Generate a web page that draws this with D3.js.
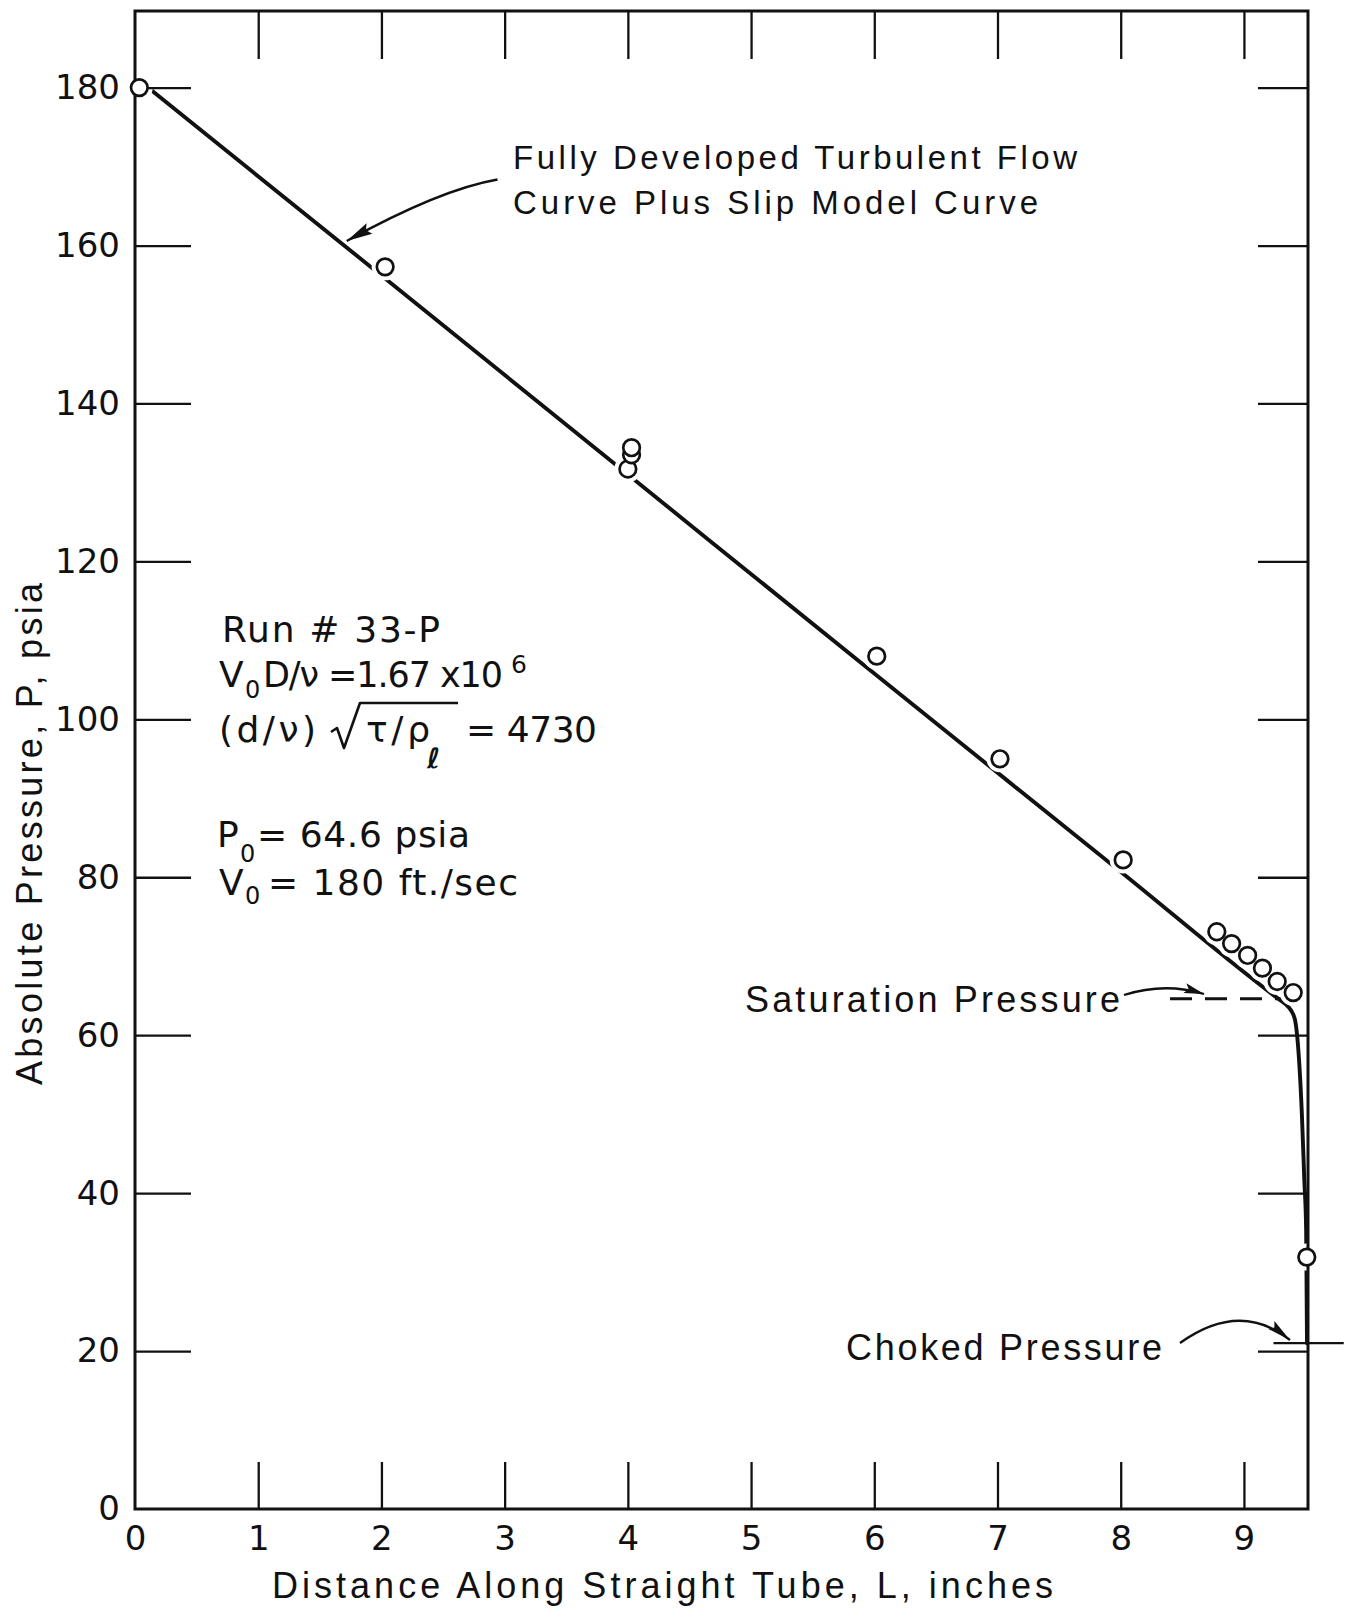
<!DOCTYPE html>
<html>
<head>
<meta charset="utf-8">
<script src="https://cdn.jsdelivr.net/npm/d3@7"></script>
<style>
  html, body { margin: 0; padding: 0; background: #fff; }
  svg { display: block; }
</style>
</head>
<body>
<svg id="chart" width="1352" height="1609"></svg>
<script>
// Measured taps: distance along the tube (inches) and absolute pressure (psia)
const tapDistance = [0.035, 2.03, 4.00, 4.03, 4.03, 6.02, 7.02, 8.02, 8.78, 8.90, 9.03, 9.15, 9.27, 9.40, 9.51];
const tapPressure = [180.0, 157.3, 131.7, 133.5, 134.4, 108.0, 95.0, 82.2, 73.1, 71.6, 70.1, 68.5, 66.8, 65.4, 31.9];

// Fully developed turbulent flow curve plus slip model curve
const curveDistance = [0.035, 2.0, 4.0, 6.0, 8.0, 9.28, 9.34, 9.38, 9.415, 9.44, 9.47, 9.49, 9.505, 9.512];
const curvePressure = [180.9, 156.2, 131.0, 105.8, 80.7, 64.6, 63.9, 63.2, 61.9, 58.5, 50.1, 41.7, 35.3, 21.0];

// Reference pressures
const saturationPressure = 64.6;
const saturationSpan = [8.40, 9.52];
const chokedPressure = 21.0;
const chokedSpan = [9.24, 9.81];

// Axis ticks
const xTicks = [0, 1, 2, 3, 4, 5, 6, 7, 8, 9];
const yTicks = [0, 20, 40, 60, 80, 100, 120, 140, 160, 180];
const xDomain = [0, 9.52];
const yDomain = [0, 189.7];

const svg = d3.select("#chart");
const x = d3.scaleLinear().domain(xDomain).range([135, 1308]);
const y = d3.scaleLinear().domain(yDomain).range([1509, 11]);

const INK = "#111";
const sans = "'Liberation Sans', Arial, sans-serif";
const geo = "'DejaVu Sans', sans-serif";

// ---- prediction curve ----
const curve = curveDistance.map((d, i) => [d, curvePressure[i]]);
svg.append("path")
  .attr("d", d3.line().x(d => x(d[0])).y(d => y(d[1])).curve(d3.curveMonotoneX)(curve))
  .attr("fill", "none").attr("stroke", INK).attr("stroke-width", 3.9)
  .attr("stroke-linejoin", "round").attr("stroke-linecap", "round");

// saturation pressure (dashed)
svg.append("line")
  .attr("x1", x(saturationSpan[0])).attr("x2", x(saturationSpan[1]))
  .attr("y1", y(saturationPressure)).attr("y2", y(saturationPressure))
  .attr("stroke", INK).attr("stroke-width", 3).attr("stroke-dasharray", "22,13");

// choked pressure marker
svg.append("line")
  .attr("x1", x(chokedSpan[0])).attr("x2", x(chokedSpan[1]))
  .attr("y1", y(chokedPressure)).attr("y2", y(chokedPressure))
  .attr("stroke", INK).attr("stroke-width", 2.2);

const taps = tapDistance.map((d, i) => [d, tapPressure[i]]);

// white halos break the curve where it meets a tap symbol
svg.append("g").selectAll("circle").data(taps).join("circle")
  .attr("cx", d => x(d[0])).attr("cy", d => y(d[1])).attr("r", 13.5)
  .attr("fill", "#fff");

// ---- frame and ticks ----
function styleAxis(g) {
  g.select(".domain").remove();
  g.selectAll(".tick line").attr("stroke", INK).attr("stroke-width", 2.3);
  g.selectAll(".tick text").attr("fill", INK).attr("font-family", geo).attr("font-size", 34);
}

svg.append("g").attr("transform", `translate(0,${y(0)})`)
  .call(d3.axisBottom(x).tickValues(xTicks).tickSize(-47).tickPadding(17).tickFormat(d3.format("d")))
  .call(styleAxis)
  .call(g => g.selectAll(".tick line").filter(d => d === 0).remove());

svg.append("g").attr("transform", `translate(${x(0)},0)`)
  .call(d3.axisLeft(y).tickValues(yTicks).tickSize(-56).tickPadding(15).tickFormat(d3.format("d")))
  .call(styleAxis)
  .call(g => g.selectAll(".tick line").filter(d => d === 0).remove());

svg.append("g").attr("transform", `translate(0,${y(yDomain[1])})`)
  .call(d3.axisTop(x).tickValues(xTicks.slice(1)).tickSize(-48).tickFormat(""))
  .call(styleAxis);

svg.append("g").attr("transform", `translate(${x(xDomain[1])},0)`)
  .call(d3.axisRight(y).tickValues(yTicks.slice(1)).tickSize(-50).tickFormat(""))
  .call(styleAxis);

svg.append("rect")
  .attr("x", x(xDomain[0])).attr("y", y(yDomain[1]))
  .attr("width", x(xDomain[1]) - x(xDomain[0])).attr("height", y(yDomain[0]) - y(yDomain[1]))
  .attr("fill", "none").attr("stroke", INK).attr("stroke-width", 3);

// ---- tap symbols ----
svg.append("g").selectAll("circle").data(taps).join("circle")
  .attr("cx", d => x(d[0])).attr("cy", d => y(d[1])).attr("r", 8.3)
  .attr("fill", "#fff").attr("stroke", INK).attr("stroke-width", 2.7);

// ---- axis titles ----
svg.append("text")
  .attr("x", 272).attr("y", 1598)
  .attr("textLength", 781).attr("lengthAdjust", "spacing")
  .attr("font-family", sans).attr("font-size", 36).attr("fill", INK)
  .text("Distance Along Straight Tube, L, inches");

svg.append("text")
  .attr("transform", "translate(42,1085) rotate(-90)")
  .attr("textLength", 502).attr("lengthAdjust", "spacing")
  .attr("font-family", sans).attr("font-size", 36).attr("fill", INK)
  .text("Absolute Pressure, P, psia");

// ---- annotations ----
function label(txt, px, py, size, len, family) {
  const t = svg.append("text")
    .attr("x", px).attr("y", py)
    .attr("font-family", family || geo).attr("font-size", size).attr("fill", INK)
    .text(txt);
  if (len) t.attr("textLength", len).attr("lengthAdjust", "spacing");
  return t;
}

function arrow(p0, c, p1, len, half) {
  svg.append("path")
    .attr("d", `M${p0[0]},${p0[1]} Q${c[0]},${c[1]} ${p1[0]},${p1[1]}`)
    .attr("fill", "none").attr("stroke", INK).attr("stroke-width", 2.3);
  const dx = p1[0] - c[0], dy = p1[1] - c[1];
  const n = Math.hypot(dx, dy), ux = dx / n, uy = dy / n;
  const bx = p1[0] - ux * len, by = p1[1] - uy * len;
  svg.append("path")
    .attr("d", `M${p1[0]},${p1[1]} L${bx - uy * half},${by + ux * half} L${bx + ux * 4},${by + uy * 4} L${bx + uy * half},${by - ux * half} Z`)
    .attr("fill", INK);
}

label("Fully Developed Turbulent Flow", 513, 169, 33, 564, sans);
label("Curve Plus Slip Model Curve", 513, 214, 33, 525, sans);
arrow([497.5, 179.5], [440, 189.5], [346.7, 241], 26, 6);

label("Saturation Pressure", 745, 1012, 36, 375, sans);
arrow([1124, 995], [1165, 982], [1204, 994], 20, 5);

label("Choked Pressure", 846, 1360, 36, 316, sans);
arrow([1180, 1343], [1240, 1300], [1290, 1340], 24, 5);

// run conditions
label("Run # 33-P", 222, 642, 36, 218);

label("V", 219, 687, 36);
label("0", 245, 698, 24);
label("D/ν =1.67 x10", 263, 687, 35, 240);
label("6", 511, 673, 25);

label("(d/ν)", 219, 742, 36, 97);
svg.append("path")
  .attr("d", "M331,732 L337,728 L344,748 L360,703 L458,703")
  .attr("fill", "none").attr("stroke", INK).attr("stroke-width", 2.6)
  .attr("stroke-linejoin", "round");
label("τ/ρ", 366, 742, 36, 64);
label("ℓ", 427, 768, 28).attr("font-weight", "bold");
label("= 4730", 466, 742, 36, 131);

label("P", 217, 847, 36);
label("0", 240, 862, 24);
label("= 64.6 psia", 257, 847, 36, 213);

label("V", 219, 895, 36);
label("0", 245, 904, 24);
label("= 180 ft./sec", 268, 895, 36, 250);
</script>
</body>
</html>
